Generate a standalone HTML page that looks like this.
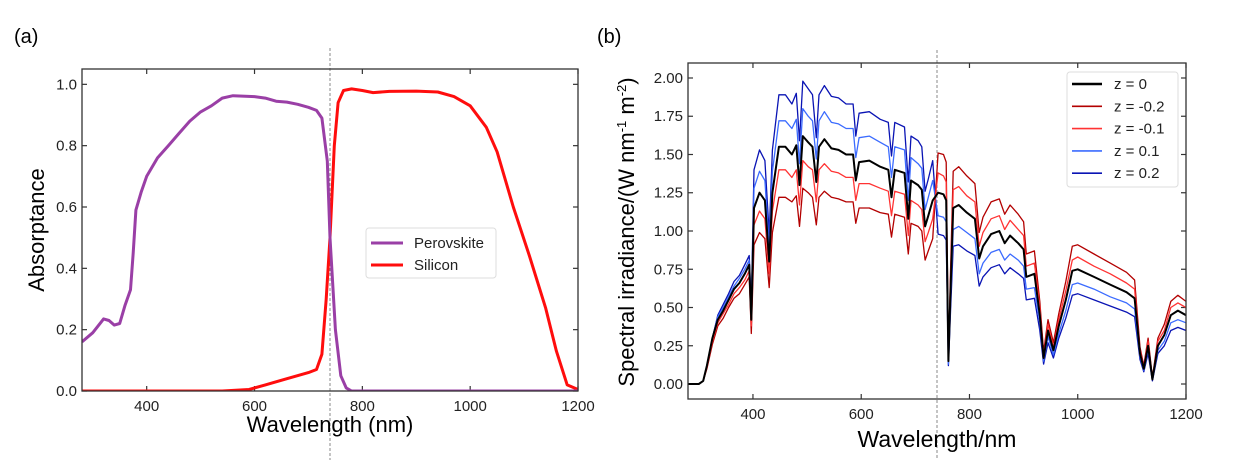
<!DOCTYPE html>
<html><head><meta charset="utf-8">
<style>
html,body{margin:0;padding:0;background:#fff;}
svg{display:block;font-family:"Liberation Sans","DejaVu Sans",sans-serif;}
</style></head>
<body>
<svg id="fig" width="1248" height="460" viewBox="0 0 1248 460" xmlns="http://www.w3.org/2000/svg">
<rect width="1248" height="460" fill="#fff"/>
<text x="14" y="43" font-size="20">(a)</text>
<text x="597" y="43" font-size="20">(b)</text>
<g id="pa"></g>
<g id="pb"></g>
</svg>
<script>
// Panel (a) data
const wlPero = [280,300,320,330,340,350,360,370,375,380,390,400,420,440,460,480,500,520,540,560,600,620,640,660,680,700,715,725,735,740,750,760,770,780,1200];
const absPero = [0.16,0.19,0.235,0.23,0.215,0.22,0.28,0.33,0.45,0.59,0.65,0.70,0.76,0.80,0.84,0.88,0.91,0.93,0.955,0.963,0.96,0.955,0.945,0.942,0.935,0.925,0.915,0.89,0.75,0.5,0.2,0.05,0.01,0,0];
const wlSi = [280,540,590,620,660,700,715,725,733,740,748,755,765,780,800,820,850,900,940,970,1000,1030,1050,1080,1110,1140,1160,1180,1200];
const absSi = [0,0,0.005,0.02,0.04,0.06,0.07,0.12,0.3,0.5,0.8,0.94,0.98,0.985,0.98,0.973,0.977,0.978,0.975,0.96,0.93,0.86,0.78,0.6,0.44,0.27,0.13,0.02,0.005];
const ticksA_x = [400,600,800,1000,1200];
const ticksA_y = [0.0,0.2,0.4,0.6,0.8,1.0];

// Panel (b) data
const wlSpec = [280,300,308,315,325,335,345,355,365,375,385,393,397,402,412,422,430,436,448,460,472,480,486,492,502,510,517,522,532,545,558,572,585,590,596,615,635,650,656,662,680,687,692,705,712,718,724,732,742,752,757,761,765,770,780,795,810,818,825,840,855,865,875,890,900,905,920,930,937,945,955,965,978,990,1000,1030,1060,1090,1105,1115,1122,1130,1138,1148,1160,1172,1185,1200];
const irrZ0 = [0,0,0.02,0.12,0.3,0.42,0.48,0.55,0.62,0.66,0.72,0.78,0.42,1.15,1.25,1.2,0.8,1.25,1.55,1.55,1.5,1.56,1.3,1.62,1.58,1.55,1.32,1.55,1.6,1.54,1.53,1.5,1.5,1.33,1.45,1.46,1.42,1.4,1.22,1.4,1.38,1.08,1.33,1.3,1.27,1.03,1.1,1.2,1.25,1.24,1.2,0.15,0.6,1.15,1.17,1.12,1.08,0.82,0.9,0.98,1.0,0.92,0.97,0.92,0.88,0.7,0.72,0.45,0.17,0.35,0.22,0.38,0.55,0.74,0.75,0.7,0.65,0.6,0.56,0.2,0.1,0.25,0.03,0.25,0.32,0.45,0.48,0.45];
const irrZm02 = [0,0,0.02,0.1,0.26,0.38,0.43,0.50,0.56,0.59,0.65,0.70,0.33,0.91,0.99,0.95,0.63,0.99,1.22,1.22,1.19,1.23,1.03,1.28,1.25,1.22,1.04,1.22,1.26,1.22,1.21,1.19,1.19,1.05,1.15,1.15,1.12,1.11,0.96,1.11,1.09,0.85,1.05,1.03,1.00,0.81,0.87,0.95,1.51,1.50,1.45,0.18,0.73,1.39,1.42,1.36,1.31,0.99,1.09,1.19,1.21,1.11,1.17,1.11,1.06,0.85,0.87,0.54,0.21,0.42,0.27,0.46,0.67,0.90,0.91,0.85,0.79,0.73,0.68,0.24,0.12,0.30,0.04,0.30,0.39,0.54,0.58,0.54];
const irrZm01 = [0,0,0.02,0.11,0.28,0.40,0.46,0.52,0.59,0.63,0.68,0.74,0.38,1.04,1.13,1.08,0.72,1.13,1.40,1.40,1.35,1.40,1.17,1.46,1.42,1.40,1.19,1.40,1.44,1.39,1.38,1.35,1.35,1.20,1.31,1.31,1.28,1.26,1.10,1.26,1.24,0.97,1.20,1.17,1.14,0.93,0.99,1.08,1.38,1.36,1.32,0.17,0.66,1.27,1.29,1.23,1.19,0.90,0.99,1.08,1.10,1.01,1.07,1.01,0.97,0.77,0.79,0.50,0.19,0.39,0.24,0.42,0.61,0.81,0.83,0.77,0.72,0.66,0.62,0.22,0.11,0.28,0.03,0.28,0.35,0.50,0.53,0.50];
const irrZp01 = [0,0,0.02,0.12,0.3,0.44,0.50,0.57,0.64,0.69,0.75,0.81,0.47,1.28,1.39,1.33,0.89,1.39,1.72,1.72,1.67,1.73,1.44,1.80,1.75,1.72,1.47,1.72,1.78,1.71,1.70,1.67,1.67,1.48,1.61,1.62,1.58,1.55,1.35,1.55,1.53,1.20,1.48,1.44,1.41,1.14,1.22,1.33,1.10,1.09,1.06,0.13,0.53,1.01,1.03,0.99,0.95,0.72,0.79,0.86,0.88,0.81,0.85,0.81,0.77,0.62,0.63,0.40,0.15,0.31,0.19,0.33,0.48,0.65,0.66,0.62,0.57,0.53,0.49,0.18,0.09,0.22,0.03,0.22,0.28,0.40,0.42,0.40];
const irrZp02 = [0,0,0.02,0.12,0.3,0.45,0.52,0.59,0.67,0.71,0.78,0.84,0.51,1.40,1.53,1.46,0.98,1.53,1.89,1.89,1.83,1.90,1.59,1.98,1.93,1.89,1.61,1.89,1.95,1.88,1.87,1.83,1.83,1.62,1.77,1.78,1.73,1.71,1.49,1.71,1.68,1.32,1.62,1.59,1.55,1.26,1.34,1.46,0.98,0.97,0.94,0.12,0.47,0.90,0.91,0.87,0.84,0.64,0.70,0.76,0.78,0.72,0.76,0.72,0.69,0.55,0.56,0.35,0.13,0.27,0.17,0.30,0.43,0.58,0.59,0.55,0.51,0.47,0.44,0.16,0.08,0.20,0.02,0.20,0.25,0.35,0.37,0.35];
const ticksB_x = [400,600,800,1000,1200];
const ticksB_y = [0.00,0.25,0.50,0.75,1.00,1.25,1.50,1.75,2.00];
const seriesNames = ["z = 0","z = -0.2","z = -0.1","z = 0.1","z = 0.2"];

const NS="http://www.w3.org/2000/svg";
function mk(parent,tag,attrs){const e=document.createElementNS(NS,tag);for(const k in attrs)e.setAttribute(k,attrs[k]);parent.appendChild(e);return e;}

function axes(g,L,R,T,B,x0,x1,y0,y1,xt,yt,ydec){
  const sx=v=>L+(v-x0)/(x1-x0)*(R-L);
  const sy=v=>B-(v-y0)/(y1-y0)*(B-T);
  xt.forEach(v=>{
    const X=sx(v);
    const t1=mk(g,'line',{x1:X,x2:X,y1:B,y2:B-5,stroke:'#333','stroke-width':1.2});
    
    
    mk(g,'line',{x1:X,x2:X,y1:T,y2:T+5,stroke:'#333','stroke-width':1.2});
    const tx=mk(g,'text',{x:X,y:B+20,'font-size':15,'text-anchor':'middle',fill:'#222'});
    tx.textContent=v;
    
    
  });
  yt.forEach(v=>{
    const Y=sy(v);
    mk(g,'line',{x1:L,x2:L+5,y1:Y,y2:Y,stroke:'#333','stroke-width':1.2});
    mk(g,'line',{x1:R,x2:R-5,y1:Y,y2:Y,stroke:'#333','stroke-width':1.2});
    const ty=mk(g,'text',{x:L-5,y:Y+5,'font-size':15,'text-anchor':'end',fill:'#222'});
    ty.textContent=v.toFixed(ydec);
    
    
  });
  return [sx,sy];
}
function line(g,xs,ys,sx,sy,color,w,name){
  const p=mk(g,'path',{d:xs.map((x,i)=>(i?'L':'M')+sx(x).toFixed(1)+','+sy(ys[i]).toFixed(1)).join(''),fill:'none',stroke:color,'stroke-width':w,'stroke-linejoin':'round'});
  
  
}

// Panel A
(function(){
  const g=document.getElementById('pa');
  const L=82,R=578,T=69,B=391;
  const [sx,sy]=axes(g,L,R,T,B,280,1200,0,1.05,ticksA_x,ticksA_y,1);
  const vl=mk(g,'line',{x1:sx(740),x2:sx(740),y1:48,y2:460,stroke:'#888','stroke-width':1,'stroke-dasharray':'3,2'});
  
  
  const cl=mk(g,'clipPath',{id:'ca'});mk(cl,'rect',{x:L,y:T-3,width:R-L,height:B-T+3});
  const cg=mk(g,'g',{'clip-path':'url(#ca)'});
  line(cg,wlSi,absSi,sx,sy,'#ff0d0d',3,'silicon-line');
  line(cg,wlPero,absPero,sx,sy,'#9a3fa6',3,'perovskite-line');
  mk(g,'rect',{x:L,y:T,width:R-L,height:B-T,fill:'none',stroke:'#333','stroke-width':1.3});
  const yl=mk(g,'text',{x:0,y:0,'font-size':22,'text-anchor':'middle',transform:'translate(44,230) rotate(-90)'});
  yl.textContent='Absorptance';
  
  
  const xl=mk(g,'text',{x:330,y:432,'font-size':22,'text-anchor':'middle'});
  xl.textContent='Wavelength (nm)';
  
  
  const lg=mk(g,'g',{});
  
  
  mk(lg,'rect',{x:366,y:228,width:130,height:50,rx:3,fill:'#fff',stroke:'#ddd'});
  [['Perovskite','#9a3fa6',243],['Silicon','#ff0d0d',265]].forEach(e=>{
    mk(lg,'line',{x1:371,x2:403,y1:e[2],y2:e[2],stroke:e[1],'stroke-width':3});
    const t=mk(lg,'text',{x:414,y:e[2]+5,'font-size':15,fill:'#222'});t.textContent=e[0];
    
    
  });
})();

// Panel B
(function(){
  const g=document.getElementById('pb');
  const L=688,R=1186,T=63,B=399;
  const [sx,sy]=axes(g,L,R,T,B,280,1200,-0.098,2.098,ticksB_x,ticksB_y,2);
  const vl=mk(g,'line',{x1:sx(740),x2:sx(740),y1:50,y2:460,stroke:'#888','stroke-width':1,'stroke-dasharray':'3,2'});
  
  
  const cl=mk(g,'clipPath',{id:'cb'});mk(cl,'rect',{x:L,y:T,width:R-L,height:B-T});
  const cg=mk(g,'g',{'clip-path':'url(#cb)'});
  line(cg,wlSpec,irrZp02,sx,sy,'#0a14b4',1.3,'series-z-0.2');
  line(cg,wlSpec,irrZp01,sx,sy,'#3b6bff',1.3,'series-z-0.1');
  line(cg,wlSpec,irrZm02,sx,sy,'#b30000',1.3,'series-z-minus-0.2');
  line(cg,wlSpec,irrZm01,sx,sy,'#ff3333',1.3,'series-z-minus-0.1');
  line(cg,wlSpec,irrZ0,sx,sy,'#000',2,'series-z-0');
  mk(g,'rect',{x:L,y:T,width:R-L,height:B-T,fill:'none',stroke:'#333','stroke-width':1.3});
  const yl=mk(g,'text',{x:0,y:0,'font-size':22,'text-anchor':'middle',transform:'translate(634,232) rotate(-90)'});
  yl.innerHTML='Spectral irradiance/(W nm<tspan dy="-8" font-size="13">-1</tspan><tspan dy="8"> m</tspan><tspan dy="-8" font-size="13">-2</tspan><tspan dy="8">)</tspan>';
  
  
  const xl=mk(g,'text',{x:937,y:447,'font-size':23,'text-anchor':'middle'});
  xl.textContent='Wavelength/nm';
  
  
  const lg=mk(g,'g',{});
  
  
  mk(lg,'rect',{x:1067,y:72,width:111,height:115,rx:3,fill:'#fff',stroke:'#ddd'});
  const cols=['#000','#b30000','#ff3333','#3b6bff','#0a14b4'];
  seriesNames.forEach((n,i)=>{
    const y=84+i*22.3;
    mk(lg,'line',{x1:1072,x2:1102,y1:y,y2:y,stroke:cols[i],'stroke-width':i?1.6:2.5});
    const t=mk(lg,'text',{x:1114,y:y+5,'font-size':15,fill:'#222'});t.textContent=n;
    
    
  });
})();
</script>
</body></html>
